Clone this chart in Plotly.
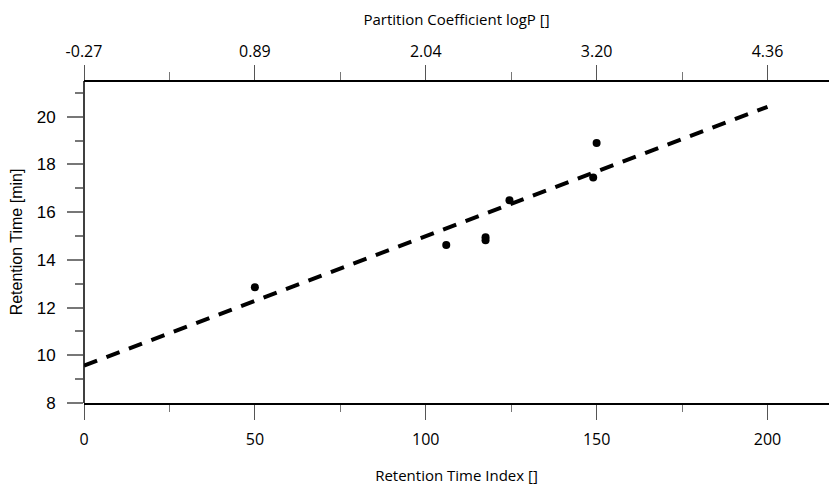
import plotly.graph_objects as go

# data
rti = [50, 106, 117.5, 117.5, 124.5, 149, 150]
rt_min = [12.85, 14.62, 14.82, 14.95, 16.5, 17.45, 18.9]

fit_x = [0, 200]
fit_y = [9.57, 20.42]

bottom_ticks = [0, 50, 100, 150, 200]
bottom_minor = [25, 75, 125, 175]
top_tick_text = ["-0.27", "0.89", "2.04", "3.20", "4.36"]
y_ticks = [8, 10, 12, 14, 16, 18, 20]
y_minor = [9, 11, 13, 15, 17, 19, 21]

TICK_FONT = dict(family="Open Sans", size=16, color="black")
Y_FONT = dict(family="Liberation Sans, Arial", size=17, color="black")

fig = go.Figure()
fig.add_trace(go.Scatter(
    x=fit_x, y=fit_y, mode="lines",
    line=dict(color="black", width=4, dash="14px,10px"),
    showlegend=False, hoverinfo="skip"))
fig.add_trace(go.Scatter(
    x=rti, y=rt_min, mode="markers",
    marker=dict(color="black", size=8),
    showlegend=False))
# invisible trace that carries the top axis
fig.add_trace(go.Scatter(
    x=fit_x, y=fit_y, xaxis="x2", mode="markers",
    marker=dict(size=1, opacity=0), showlegend=False, hoverinfo="skip"))

fig.update_layout(
    width=829, height=486,
    margin=dict(l=84, r=0, t=81, b=83, autoexpand=False),
    paper_bgcolor="white", plot_bgcolor="white",
    xaxis=dict(
        range=[0, 218], tickmode="array", tickvals=bottom_ticks,
        ticks="outside", ticklen=15, tickwidth=1, tickcolor="#555",
        minor=dict(tickmode="array", tickvals=bottom_minor, ticks="outside",
                   ticklen=7, tickcolor="#777", tickwidth=1),
        showline=True, linecolor="black", linewidth=1.5,
        showgrid=False, zeroline=False, automargin=False,
        tickfont=TICK_FONT, ticklabelstandoff=6,
        title=dict(text="Retention Time Index []", font=dict(family="Open Sans", size=15, color="black"), standoff=22),
    ),
    xaxis2=dict(
        overlaying="x", side="top", anchor="free", position=1,
        range=[0, 218], tickmode="array", tickvals=bottom_ticks, ticktext=top_tick_text,
        ticks="outside", ticklen=15, tickwidth=1, tickcolor="#555",
        minor=dict(tickmode="array", tickvals=bottom_minor, ticks="outside",
                   ticklen=8, tickcolor="#777", tickwidth=1),
        showline=True, linecolor="black", linewidth=1.5,
        showgrid=False, zeroline=False, automargin=False,
        tickfont=TICK_FONT, ticklabelstandoff=2,
        title=dict(text="Partition Coefficient logP []", font=dict(family="Open Sans", size=15, color="black"), standoff=10),
    ),
    yaxis=dict(
        range=[8, 21.5], tickmode="array", tickvals=y_ticks,
        ticks="outside", ticklen=16, tickwidth=1.5, tickcolor="#777",
        minor=dict(tickmode="array", tickvals=y_minor, ticks="outside",
                   ticklen=8, tickcolor="#777", tickwidth=1.5),
        showline=False,
        showgrid=False, zeroline=False, automargin=False,
        tickfont=Y_FONT, ticklabelstandoff=8,
        title=dict(text="Retention Time [min]", font=dict(family="Liberation Sans, Arial", size=16, color="black"), standoff=10),
    ),
    shapes=[dict(type="line", xref="paper", yref="paper", x0=0, x1=0, y0=0, y1=1,
                 line=dict(color="black", width=1.5), layer="above")],
)

fig.write_html("out.html", config={"displayModeBar": False},
               post_script="document.body.style.margin='0';")
